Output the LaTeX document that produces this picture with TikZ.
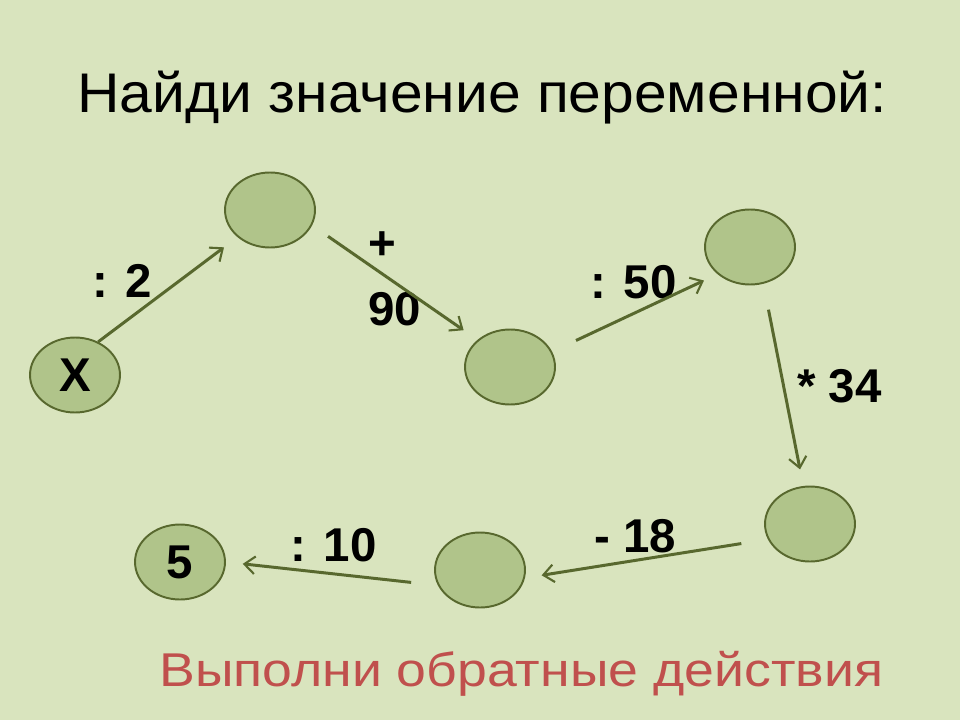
\documentclass[tikz,border=0pt]{standalone}
\usepackage{fontspec}
\setmainfont{Liberation Sans}
\usepackage{xcolor}
\usepackage{tikz}
\usetikzlibrary{arrows.meta,shapes.geometric}

\definecolor{bg}{RGB}{217,228,190}
\definecolor{cfill}{RGB}{176,196,138}
\definecolor{cline}{RGB}{88,104,46}
\definecolor{redtxt}{RGB}{192,80,77}
\newcommand{\opfont}{\fontsize{27}{37.5}\selectfont\bfseries}
\tikzset{
	cell/.style={ellipse,draw=cline,fill=cfill,line width=1.1pt,minimum width=1.8cm,minimum height=1.5cm,inner sep=0pt,font=\opfont},
	op/.style={anchor=base west,inner sep=0pt,font=\opfont,align=left}
}

\begin{document}
\begin{tikzpicture}[x=0.02cm,y=-0.02cm]
		\fill[bg] (0,0) rectangle (960,720);
		\useasboundingbox (0,0) rectangle (960,720);
		% titles
		\node[anchor=base west,inner sep=0pt,font=\fontsize{31.8}{38}\selectfont] (T) at (77,112) {\scalebox{1.052}[1]{Найди значение переменной:}};
		\node[anchor=base west,inner sep=0pt,text=redtxt,font=\fontsize{27}{33}\selectfont] (R) at (159,686) {\scalebox{1.13}[1]{Выполни обратные действия}};
		%
		\node[cell] (X) at (75,375) {X};
		\node[cell] (A) at (270,210) {};
		\node[cell] (B) at (510,367) {};
		\node[cell] (C) at (750,247) {};
		\node[cell] (D) at (810,524) {};
		\node[cell] (E) at (480,570) {};
		\node[cell] (F) at (180,562) {5};
		%
		\node[op] (opA) at (92,297) {: 2};
		\node[op] (opB) at (368,325) {+\\90};
		\node[op] (opC) at (590,298) {: 50};
		\node[op] (opD) at (797,402) {* 34};
		\node[op] (opE) at (594,552) {- 18};
		\node[op] (opF) at (290,561) {: 10};
		%
		\path[->,>={Straight Barb[length=6pt,width=10pt,line width=1.2pt]},color=cline,line width=1.7pt]
		% upper row
		(X.55) edge[shorten >=9.6pt] (A.south west)
		(A.-20) edge[shorten <=11pt,shorten >=9.6pt] (B.north west)
		(B.20) edge[shorten <=15pt,shorten >=8.5pt] (C.south west)
		% down
		(C.-70) edge[shorten <=15pt,shorten >=9.6pt] (D.100)
		% lower row
		(D.200) edge[shorten <=15.3pt,shorten >=9.6pt] (E.-10)
		(E.200) edge[shorten <=15.3pt,shorten >=9.6pt] (F.east);
\end{tikzpicture}
\end{document}
